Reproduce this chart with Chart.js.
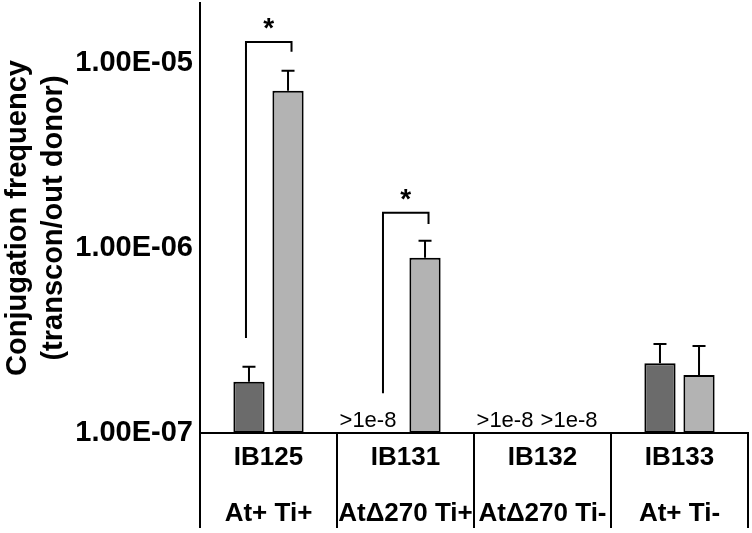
<!DOCTYPE html>
<html>
<head>
<meta charset="utf-8">
<script src="https://cdn.jsdelivr.net/npm/chart.js@4.4.1/dist/chart.umd.min.js"></script>
<style>
  html, body { margin: 0; padding: 0; background: #fff; }
  #wrap { width: 752px; height: 533px; }
</style>
</head>
<body>
<div id="wrap"><canvas id="myChart"></canvas></div>
<script>
"use strict";

// strains and their genotype
const strains = ['IB125', 'IB131', 'IB132', 'IB133'];
const genotypes = ['At+ Ti+', 'At\u0394270 Ti+', 'At\u0394270 Ti-', 'At+ Ti-'];

// bar heights (null = below detection)
const darkValues = [1.89e-7, null, null, 2.38e-7];
const lightValues = [7.08e-6, 8.86e-7, null, 2.06e-7];

// upper end of the error bars
const darkErrTop = [2.28e-7, null, null, 3.03e-7];
const lightErrTop = [9.08e-6, 1.095e-6, null, 2.95e-7];

// text shown where a bar is missing
const darkNote = [null, '>1e-8', '>1e-8', null];
const lightNote = [null, null, '>1e-8', null];

// significance brackets: category index, top, left leg end, right leg end
const sigCategory = [0, 1];
const sigTop = [1.30e-5, 1.55e-6];
const sigLeftEnd = [3.26e-7, 1.64e-7];
const sigRightEnd = [1.15e-5, 1.35e-6];

const yTicks = [1e-7, 1e-6, 1e-5];
const yMin = 1e-7;
const yMax = 2.11e-5;

const FONT = "'Liberation Sans', Arial, sans-serif";

function sciLabel(v) {
    let exp = Math.floor(Math.log10(v) + 1e-9);
    let mant = v / Math.pow(10, exp);
    let sign = exp < 0 ? '-' : '+';
    let e = Math.abs(exp);
    return mant.toFixed(2) + 'E' + sign + (e < 10 ? '0' + e : e);
}

const labels = [];
for (let i = 0; i < strains.length; i++) {
    labels.push([strains[i], genotypes[i]]);
}

const extras = {
    id: 'extras',
    afterDatasetsDraw(chart) {
        const ctx = chart.ctx;
        const y = chart.scales.y;
        const m0 = chart.getDatasetMeta(0);
        const m1 = chart.getDatasetMeta(1);
        ctx.save();
        ctx.strokeStyle = '#000';
        ctx.lineWidth = 2;

        // error bars
        const errs = [[m0, darkValues, darkErrTop], [m1, lightValues, lightErrTop]];
        for (let k = 0; k < errs.length; k++) {
            const meta = errs[k][0], vals = errs[k][1], tops = errs[k][2];
            for (let i = 0; i < vals.length; i++) {
                if (vals[i] == null || tops[i] == null) continue;
                const bx = meta.data[i].x;
                const y1 = y.getPixelForValue(vals[i]);
                const y2 = y.getPixelForValue(tops[i]);
                ctx.beginPath();
                ctx.moveTo(bx, y1);
                ctx.lineTo(bx, y2);
                ctx.moveTo(bx - 6.5, y2);
                ctx.lineTo(bx + 6.5, y2);
                ctx.stroke();
            }
        }

        // not detected notes
        ctx.fillStyle = '#000';
        ctx.font = '22px ' + FONT;
        ctx.textAlign = 'center';
        ctx.textBaseline = 'alphabetic';
        const base = y.getPixelForValue(yMin) - 6;
        for (let i = 0; i < strains.length; i++) {
            if (darkNote[i]) ctx.fillText(darkNote[i], m0.data[i].x - 18, base);
            if (lightNote[i]) ctx.fillText(lightNote[i], m1.data[i].x + 7, base);
        }

        // significance brackets
        ctx.font = 'bold 28px ' + FONT;
        for (let s = 0; s < sigCategory.length; s++) {
            const c = sigCategory[s];
            const xl = m0.data[c].x - 3;
            const xr = m1.data[c].x + 3.5;
            const yt = y.getPixelForValue(sigTop[s]);
            ctx.beginPath();
            ctx.moveTo(xl, y.getPixelForValue(sigLeftEnd[s]));
            ctx.lineTo(xl, yt);
            ctx.lineTo(xr, yt);
            ctx.lineTo(xr, y.getPixelForValue(sigRightEnd[s]));
            ctx.stroke();
            ctx.fillText('*', (xl + xr) / 2, yt - 5);
        }
        ctx.restore();
    }
};

const ctx = document.getElementById('myChart').getContext('2d');
const myChart = new Chart(ctx, {
    type: 'bar',
    data: {
        labels: labels,
        datasets: [{
            label: 'dark',
            data: darkValues,
            backgroundColor: '#6b6b6b',
            borderColor: '#000',
            borderWidth: 2,
            borderSkipped: false
        }, {
            label: 'light',
            data: lightValues,
            backgroundColor: '#b3b3b3',
            borderColor: '#000',
            borderWidth: 2,
            borderSkipped: false
        }]
    },
    options: {
        responsive: true,
        maintainAspectRatio: false,
        animation: false,
        layout: { autoPadding: false, padding: { top: 3, right: 4, left: 0, bottom: 0 } },
        datasets: {
            bar: { categoryPercentage: 0.57, barPercentage: 0.8 }
        },
        plugins: {
            legend: { display: false },
            tooltip: { enabled: false }
        },
        scales: {
            x: {
                offset: true,
                grid: {
                    display: true,
                    offset: true,
                    drawOnChartArea: false,
                    drawTicks: true,
                    tickLength: 95,
                    color: '#000',
                    lineWidth: 2
                },
                border: { display: true, color: '#000', width: 2 },
                ticks: {
                    color: '#000',
                    padding: -98,
                    autoSkip: false,
                    maxRotation: 0,
                    minRotation: 0,
                    font: { family: FONT, size: 26, weight: 'bold', lineHeight: 56 / 26 }
                },
                afterFit(scale) {
                    scale.height = 100;
                    scale.paddingLeft = 0;
                    scale.paddingRight = 0;
                }
            },
            y: {
                type: 'logarithmic',
                min: yMin,
                max: yMax,
                grid: { display: false, drawTicks: false },
                border: { display: true, color: '#000', width: 2 },
                afterBuildTicks(scale) {
                    scale.ticks = yTicks.map(v => ({ value: v }));
                },
                ticks: {
                    color: '#000',
                    padding: 7,
                    font: { family: FONT, size: 29, weight: 'bold', lineHeight: 0.2 },
                    callback: (v) => sciLabel(v)
                },
                title: {
                    display: true,
                    text: ['Conjugation frequency', '(transcon/out donor)'],
                    color: '#000',
                    padding: { top: 0, bottom: 0 },
                    font: { family: FONT, size: 29, weight: 'bold', lineHeight: 36 / 29 }
                },
                afterFit(scale) {
                    scale.width = 200;
                    scale.paddingTop = 0;
                    scale.paddingBottom = 0;
                }
            }
        }
    },
    plugins: [extras]
});
</script>
</body>
</html>
